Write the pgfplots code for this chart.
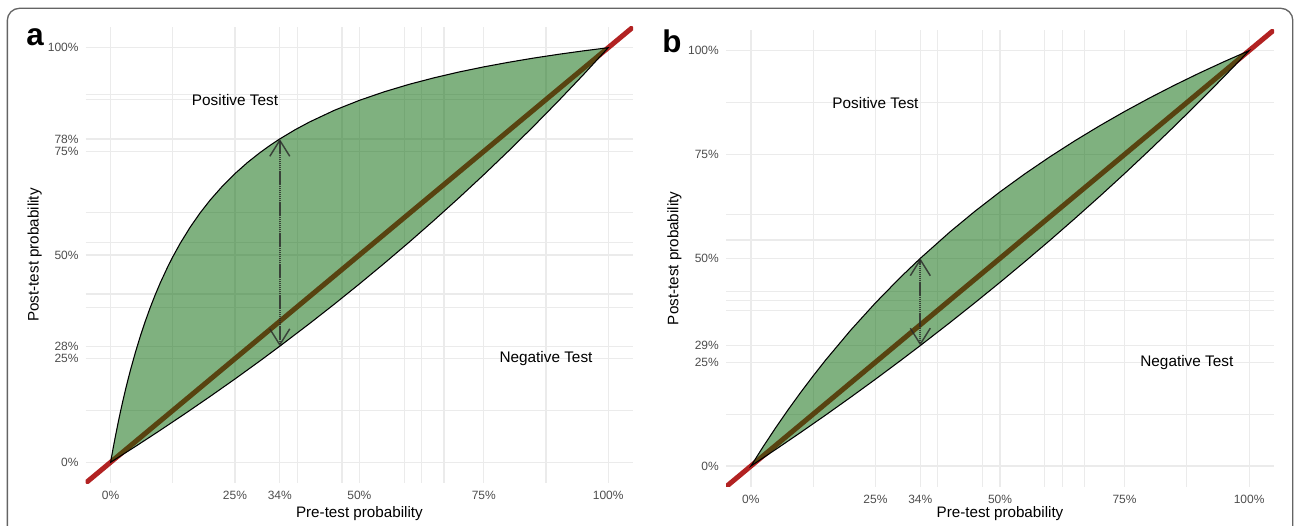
\documentclass[border=0pt]{standalone}
\usepackage{fontspec}
\setmainfont{Liberation Sans}
\usepackage{pgfplots}
\pgfplotsset{compat=1.18}
\usetikzlibrary{arrows.meta}

\definecolor{gridc}{RGB}{235,235,235}
\definecolor{tickc}{RGB}{77,77,77}
\definecolor{fillg}{RGB}{0,100,0}
\definecolor{redl}{RGB}{178,34,34}
\definecolor{borderc}{RGB}{100,100,100}
\definecolor{arrowc}{RGB}{40,40,40}

\pgfplotsset{
  pp/.style={
    scale only axis, anchor=south west,
    xmin=-5, xmax=105, ymin=-5, ymax=105,
    axis line style={draw=none},
    major tick length=0pt, minor tick length=0pt,
    tick style={draw=none},
    xmajorgrids=true, ymajorgrids=true, xminorgrids=true, yminorgrids=true,
    major grid style={gridc, line width=0.9pt},
    minor grid style={gridc, line width=0.9pt},
    tick label style={font=\fontsize{9}{10}\selectfont, text=tickc, inner sep=0pt},
    xticklabel shift=6pt, yticklabel shift=5.2pt,
    xtick={0,25,34,50,75,100},
    xticklabels={0\%,25\%,34\%,50\%,75\%,100\%},
    minor xtick={12.5,37.5,46.5,59,62.5,67,87.5},
    xlabel={Pre-test probability},
    ylabel={Post-test probability},
    clip=true,
  },
  arr/.style={arrowc, opacity=0.8, line width=1.4pt, dash pattern=on 1.1pt off 0.45pt,
    {Straight Barb[length=12pt,width=15pt,line width=1.1pt]}-{Straight Barb[length=12pt,width=15pt,line width=1.1pt]}},
}

\begin{document}
\begin{tikzpicture}
\useasboundingbox (0pt,0pt) rectangle (970.5pt,393.75pt);
\draw[borderc, line width=1pt, rounded corners=9pt] (5.5pt,-30pt) rectangle (969.6pt,387.5pt);

% ---------------- panel a ----------------
\begin{axis}[pp,
  at={(64.3pt,31.5pt)}, width=410.5pt, height=342pt,
  ytick={0,25,28,50,75,78,100},
  yticklabels={0\%,25\%,28\%,50\%,75\%,78\%,100\%},
  minor ytick={12.5,37.4,40.6,53.1,60.2,87.5,88.7},
  every axis x label/.style={at={(axis description cs:0.5,-0.0761)}, anchor=base, font=\fontsize{11.4}{13}\selectfont},
  every axis y label/.style={at={(axis description cs:-0.0862,0.5)}, rotate=90, anchor=base, font=\fontsize{11.4}{13}\selectfont},
]
\addplot[redl, line width=3.75pt] coordinates {(-5,-5) (105,105)};
\addplot[fill=fillg, fill opacity=0.5, draw=black, line width=0.8pt] table {
x y
0 0
0.5 3.343
1 6.500
1.5 9.486
2 12.315
2.5 14.999
3 17.549
3.5 19.975
4 22.285
5 26.590
6 30.521
7 34.124
8 37.439
9 40.499
10 43.332
11.5 47.210
12.5 49.57
14 52.838
16 56.726
18 60.170
20 63.24
22.5 66.645
25 69.64
27.5 72.303
30 74.68
32 76.407
34 78.00
37 80.166
40 82.10
45 84.92
50 87.31
55 89.37
60 91.17
65 92.74
70 94.14
75 95.38
80 96.49
85 97.50
90 98.41
95 99.24
100 100
95 93.48
90 87.17
85 81.05
80 75.12
75 69.37
70 63.79
65 58.37
60 53.10
55 47.99
50 43.02
45 38.18
40 33.48
34 28.00
30 24.44
25 20.10
20 15.88
15 11.76
10 7.74
5 3.82
0 0
} -- cycle;
\addplot[arr] coordinates {(34,28) (34,78)};
\node[font=\fontsize{11.5}{13}\selectfont] at (axis cs:25,87.5) {Positive Test};
\node[font=\fontsize{11.5}{13}\selectfont] at (axis cs:87.5,25) {Negative Test};
\end{axis}

% ---------------- panel b ----------------
\begin{axis}[pp,
  at={(544.5pt,28.65pt)}, width=411pt, height=342.7pt,
  ytick={0,25,29,50,75,100},
  yticklabels={0\%,25\%,29\%,50\%,75\%,100\%},
  minor ytick={12.5,37.5,39.8,42,54.4,60.6,87.5},
  every axis x label/.style={at={(axis description cs:0.5,-0.0676)}, anchor=base, font=\fontsize{11.4}{13}\selectfont},
  every axis y label/.style={at={(axis description cs:-0.087,0.5)}, rotate=90, anchor=base, font=\fontsize{11.4}{13}\selectfont},
]
\addplot[redl, line width=3.75pt] coordinates {(-5,-5) (105,105)};
\addplot[fill=fillg, fill opacity=0.5, draw=black, line width=0.8pt] table {
x y
0 0
2.5 4.74
5 9.27
7.5 13.60
10 17.74
12.5 21.71
15 25.51
20 32.67
25 39.28
30 45.41
34 50.00
40 56.41
45 61.36
50 66.00
55 70.35
60 74.43
65 78.28
70 81.91
75 85.34
80 88.59
85 91.67
90 94.59
95 97.36
100 100
95 93.78
90 87.71
85 81.80
80 76.03
75 70.40
70 64.91
65 59.56
60 54.32
55 49.21
50 44.22
45 39.35
40 34.58
34 29.00
30 25.36
25 20.90
20 16.54
15 12.27
10 8.10
5 4.01
0 0
} -- cycle;
\addplot[arr] coordinates {(34,29) (34,50)};
\node[font=\fontsize{11.5}{13}\selectfont] at (axis cs:25,87.5) {Positive Test};
\node[font=\fontsize{11.5}{13}\selectfont] at (axis cs:87.5,25) {Negative Test};
\end{axis}

\node[anchor=base west, inner sep=0pt, font=\bfseries\fontsize{23.5}{26}\selectfont] at (19.5pt,359.5pt) {a};
\node[anchor=base west, inner sep=0pt, font=\bfseries\fontsize{23.5}{26}\selectfont] at (496.5pt,354.2pt) {b};
\end{tikzpicture}
\end{document}
